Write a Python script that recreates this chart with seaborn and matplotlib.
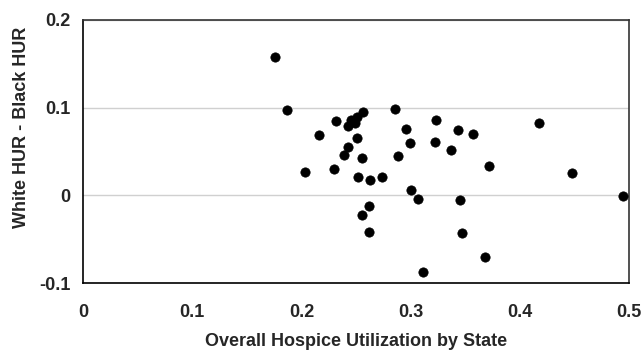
import matplotlib
matplotlib.use("Agg")
import matplotlib.pyplot as plt
import seaborn as sns
import pandas as pd

# Overall hospice utilization by state vs. white-black HUR gap
hospice_util = [0.176, 0.187, 0.232, 0.243, 0.245, 0.249, 0.251, 0.256, 0.286, 0.323,
                0.417, 0.296, 0.343, 0.357, 0.216, 0.251, 0.299, 0.322, 0.337, 0.243,
                0.239, 0.255, 0.288, 0.372, 0.448, 0.203, 0.230, 0.252, 0.263, 0.274,
                0.300, 0.307, 0.345, 0.494, 0.262, 0.255, 0.262, 0.347, 0.368, 0.311]
hur_gap = [0.158, 0.097, 0.085, 0.079, 0.086, 0.083, 0.089, 0.095, 0.098, 0.086,
           0.083, 0.076, 0.074, 0.070, 0.069, 0.065, 0.060, 0.061, 0.052, 0.055,
           0.046, 0.043, 0.045, 0.033, 0.026, 0.027, 0.030, 0.021, 0.017, 0.021,
           0.006, -0.004, -0.005, -0.001, -0.012, -0.022, -0.042, -0.043, -0.070, -0.087]

x_ticks = [0, 0.1, 0.2, 0.3, 0.4, 0.5]
x_labels = ["0", "0.1", "0.2", "0.3", "0.4", "0.5"]
y_ticks = [-0.1, 0, 0.1, 0.2]
y_labels = ["-0.1", "0", "0.1", "0.2"]

df = pd.DataFrame({"util": hospice_util, "gap": hur_gap})

sns.set_style("white")
plt.rcParams["font.family"] = ["Liberation Sans", "DejaVu Sans"]

fig = plt.figure(figsize=(6.44, 3.56), dpi=100)
ax = fig.add_axes([0.129, 0.205, 0.848, 0.739])

sns.scatterplot(data=df, x="util", y="gap", ax=ax, color="black", s=45,
                edgecolor="black", linewidth=0.5, zorder=3)

ax.set_xlim(0, 0.5)
ax.set_ylim(-0.1, 0.2)
ax.set_xticks(x_ticks)
ax.set_xticklabels(x_labels, fontsize=13, fontweight="bold")
ax.set_yticks(y_ticks)
ax.set_yticklabels(y_labels, fontsize=13, fontweight="bold")
ax.yaxis.grid(True, color="#d0d0d0", linewidth=1)
ax.set_axisbelow(True)

for side in ["left", "bottom", "top", "right"]:
    ax.spines[side].set_visible(True)
    ax.spines[side].set_color("#333333")
    ax.spines[side].set_linewidth(1.2)
ax.spines["left"].set_color("black")
ax.spines["bottom"].set_color("black")

ax.tick_params(axis="x", direction="inout", length=6, width=1, color="#333333", pad=12)
ax.tick_params(axis="y", direction="out", length=4, width=1, color="#333333", pad=5)

ax.set_xlabel("Overall Hospice Utilization by State", fontsize=13, fontweight="bold", labelpad=9)
ax.set_ylabel("White HUR - Black HUR", fontsize=13, fontweight="bold")
ax.yaxis.set_label_coords(-0.098, 0.59)

fig.savefig("out.png", dpi=100)
